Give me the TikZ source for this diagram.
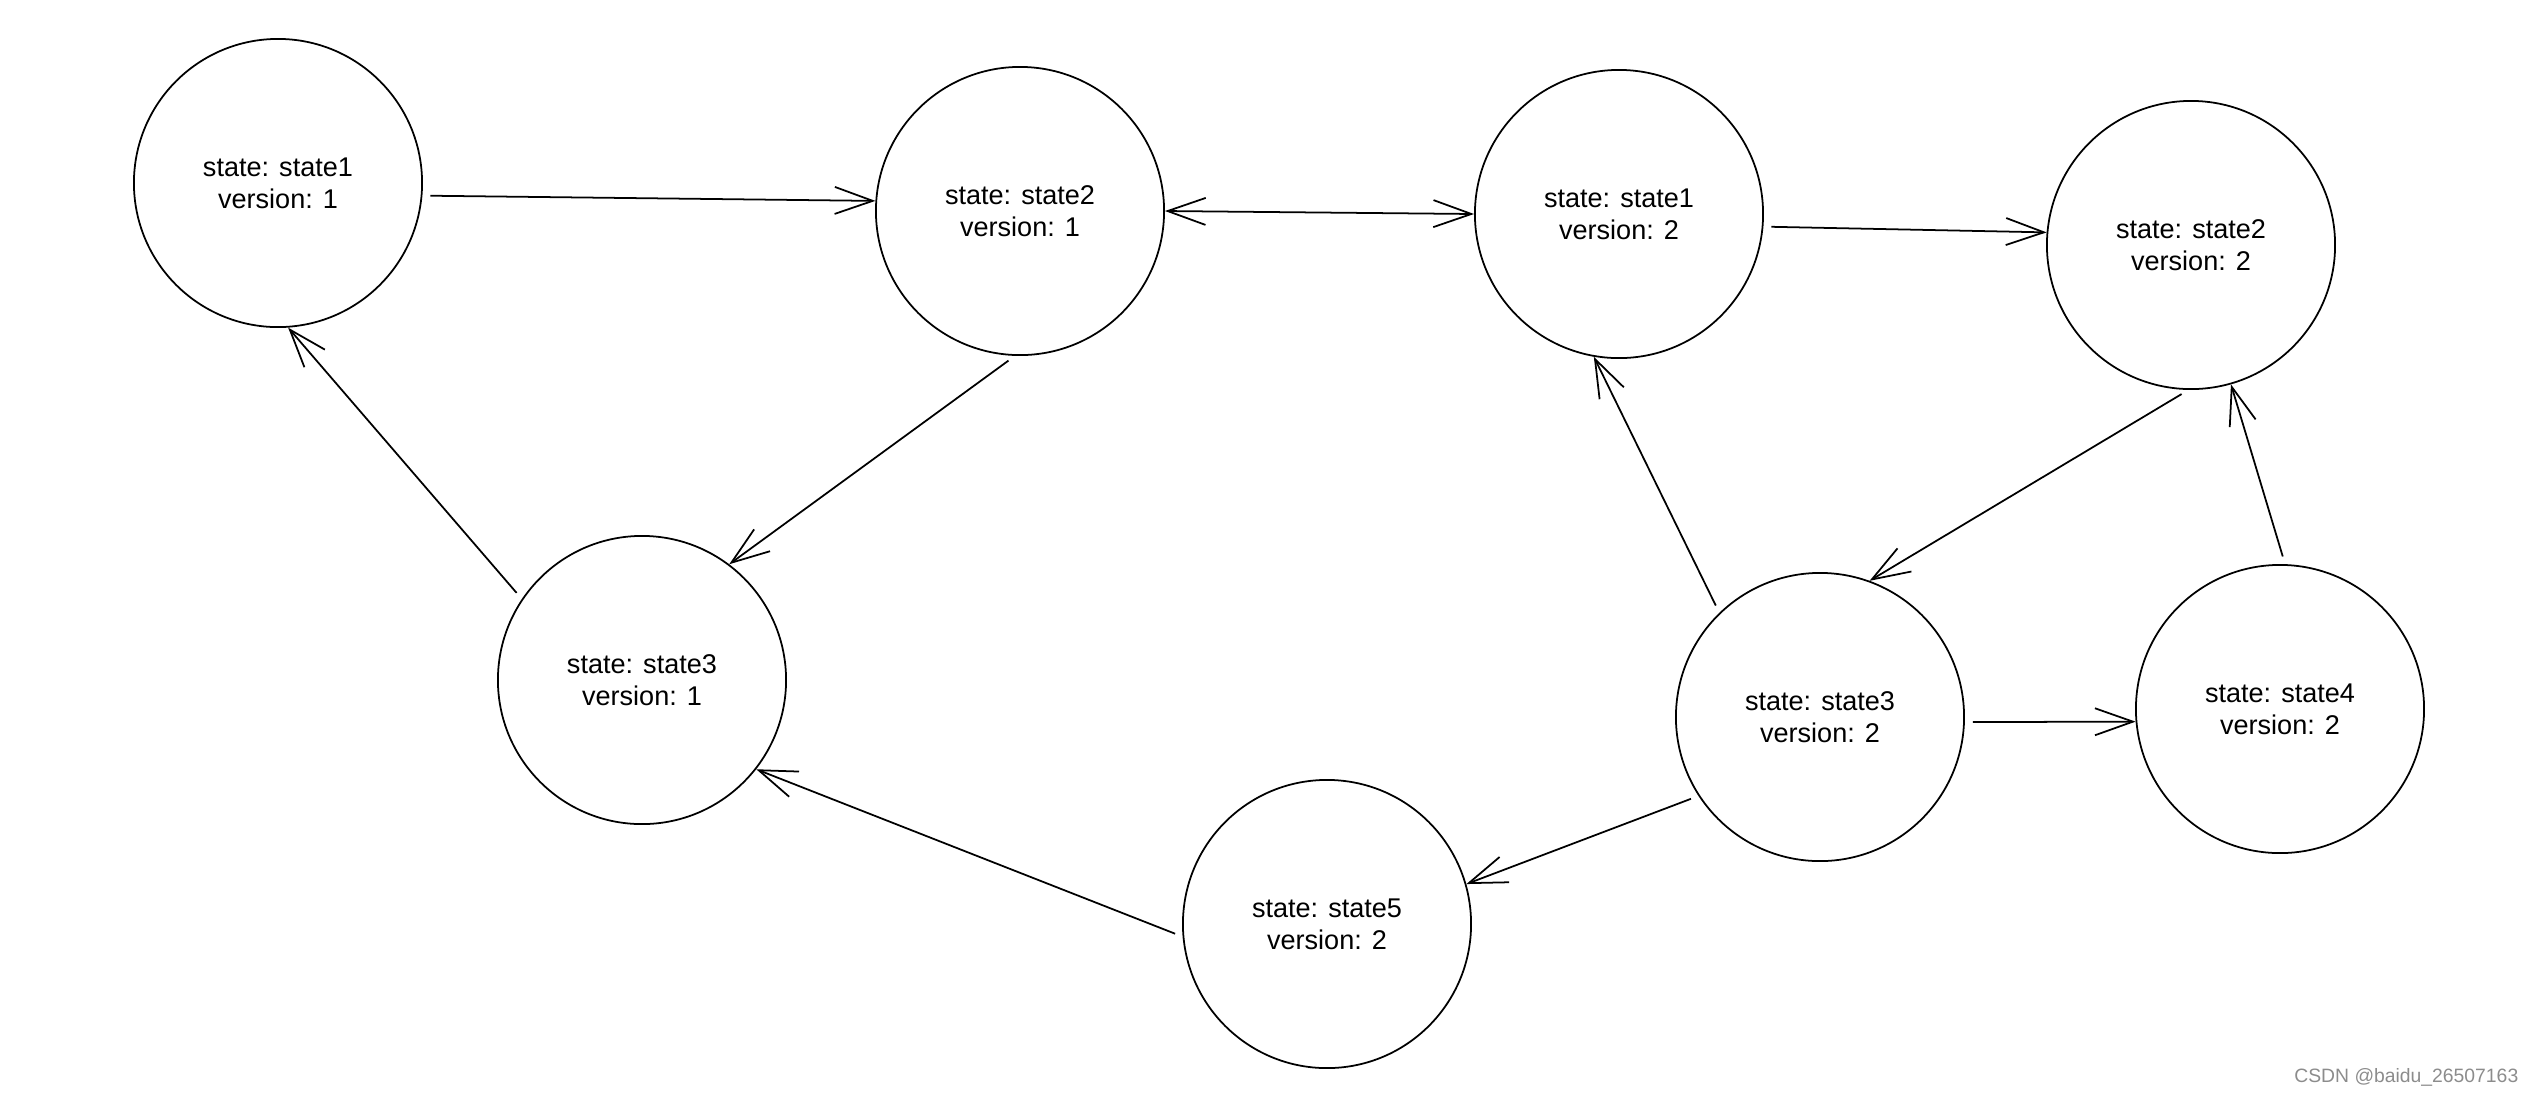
\documentclass[tikz,border=0pt]{standalone}
\usepackage{fontspec}
\setmainfont{Liberation Sans}
\usetikzlibrary{arrows.meta}
\begin{document}
\begin{tikzpicture}[x=0.01cm,y=-0.01cm,
  st/.style={circle,draw,line width=0.5pt,minimum size=2.88cm,inner sep=0pt,align=center,
    font=\fontsize{7.7}{9.2}\selectfont},
  conn/.style={line width=0.5pt,-{Straight Barb[length=0.38cm,width=0.27cm,line width=0.5pt]},shorten <=0.08cm},
  both/.style={line width=0.5pt,{Straight Barb[length=0.38cm,width=0.27cm,line width=0.5pt]}-{Straight Barb[length=0.38cm,width=0.27cm,line width=0.5pt]}}
]
\useasboundingbox (0,0) rectangle (2536,1096);
\node[st] (a) at (278,183) {state: state1\\version: 1};
\node[st] (b) at (1020,211) {state: state2\\version: 1};
\node[st] (c) at (1619,214) {state: state1\\version: 2};
\node[st] (d) at (2191,245) {state: state2\\version: 2};
\node[st] (e) at (642,680) {state: state3\\version: 1};
\node[st] (f) at (1820,717) {state: state3\\version: 2};
\node[st] (g) at (2280,709) {state: state4\\version: 2};
\node[st] (h) at (1327,924) {state: state5\\version: 2};
\draw[conn] (a.-5.6) -- (b.176.3);
\draw[both] (b.-0.5) -- (c.180.5);
\draw[conn] (c.-5.3) -- (d.175);
\draw[conn] (b.-92.4) -- (e.53.8);
\draw[conn] (e.146.7) -- (a.-86.9);
\draw[conn] (h.185.4) -- (e.-38);
\draw[conn] (f.213.7) -- (h.16.3);
\draw[conn] (f.134.5) -- (c.260);
\draw[conn] (d.-91.7) -- (f.70.5);
\draw[conn] (f.-2.4) -- (g.185.8);
\draw[conn] (g.88.9) -- (d.-74);
\node[anchor=east,text=black!45,font=\fontsize{5.5}{6.5}\selectfont,inner sep=0pt] (wm) at (2519,1077) {CSDN @baidu\_26507163};
\end{tikzpicture}
\end{document}
